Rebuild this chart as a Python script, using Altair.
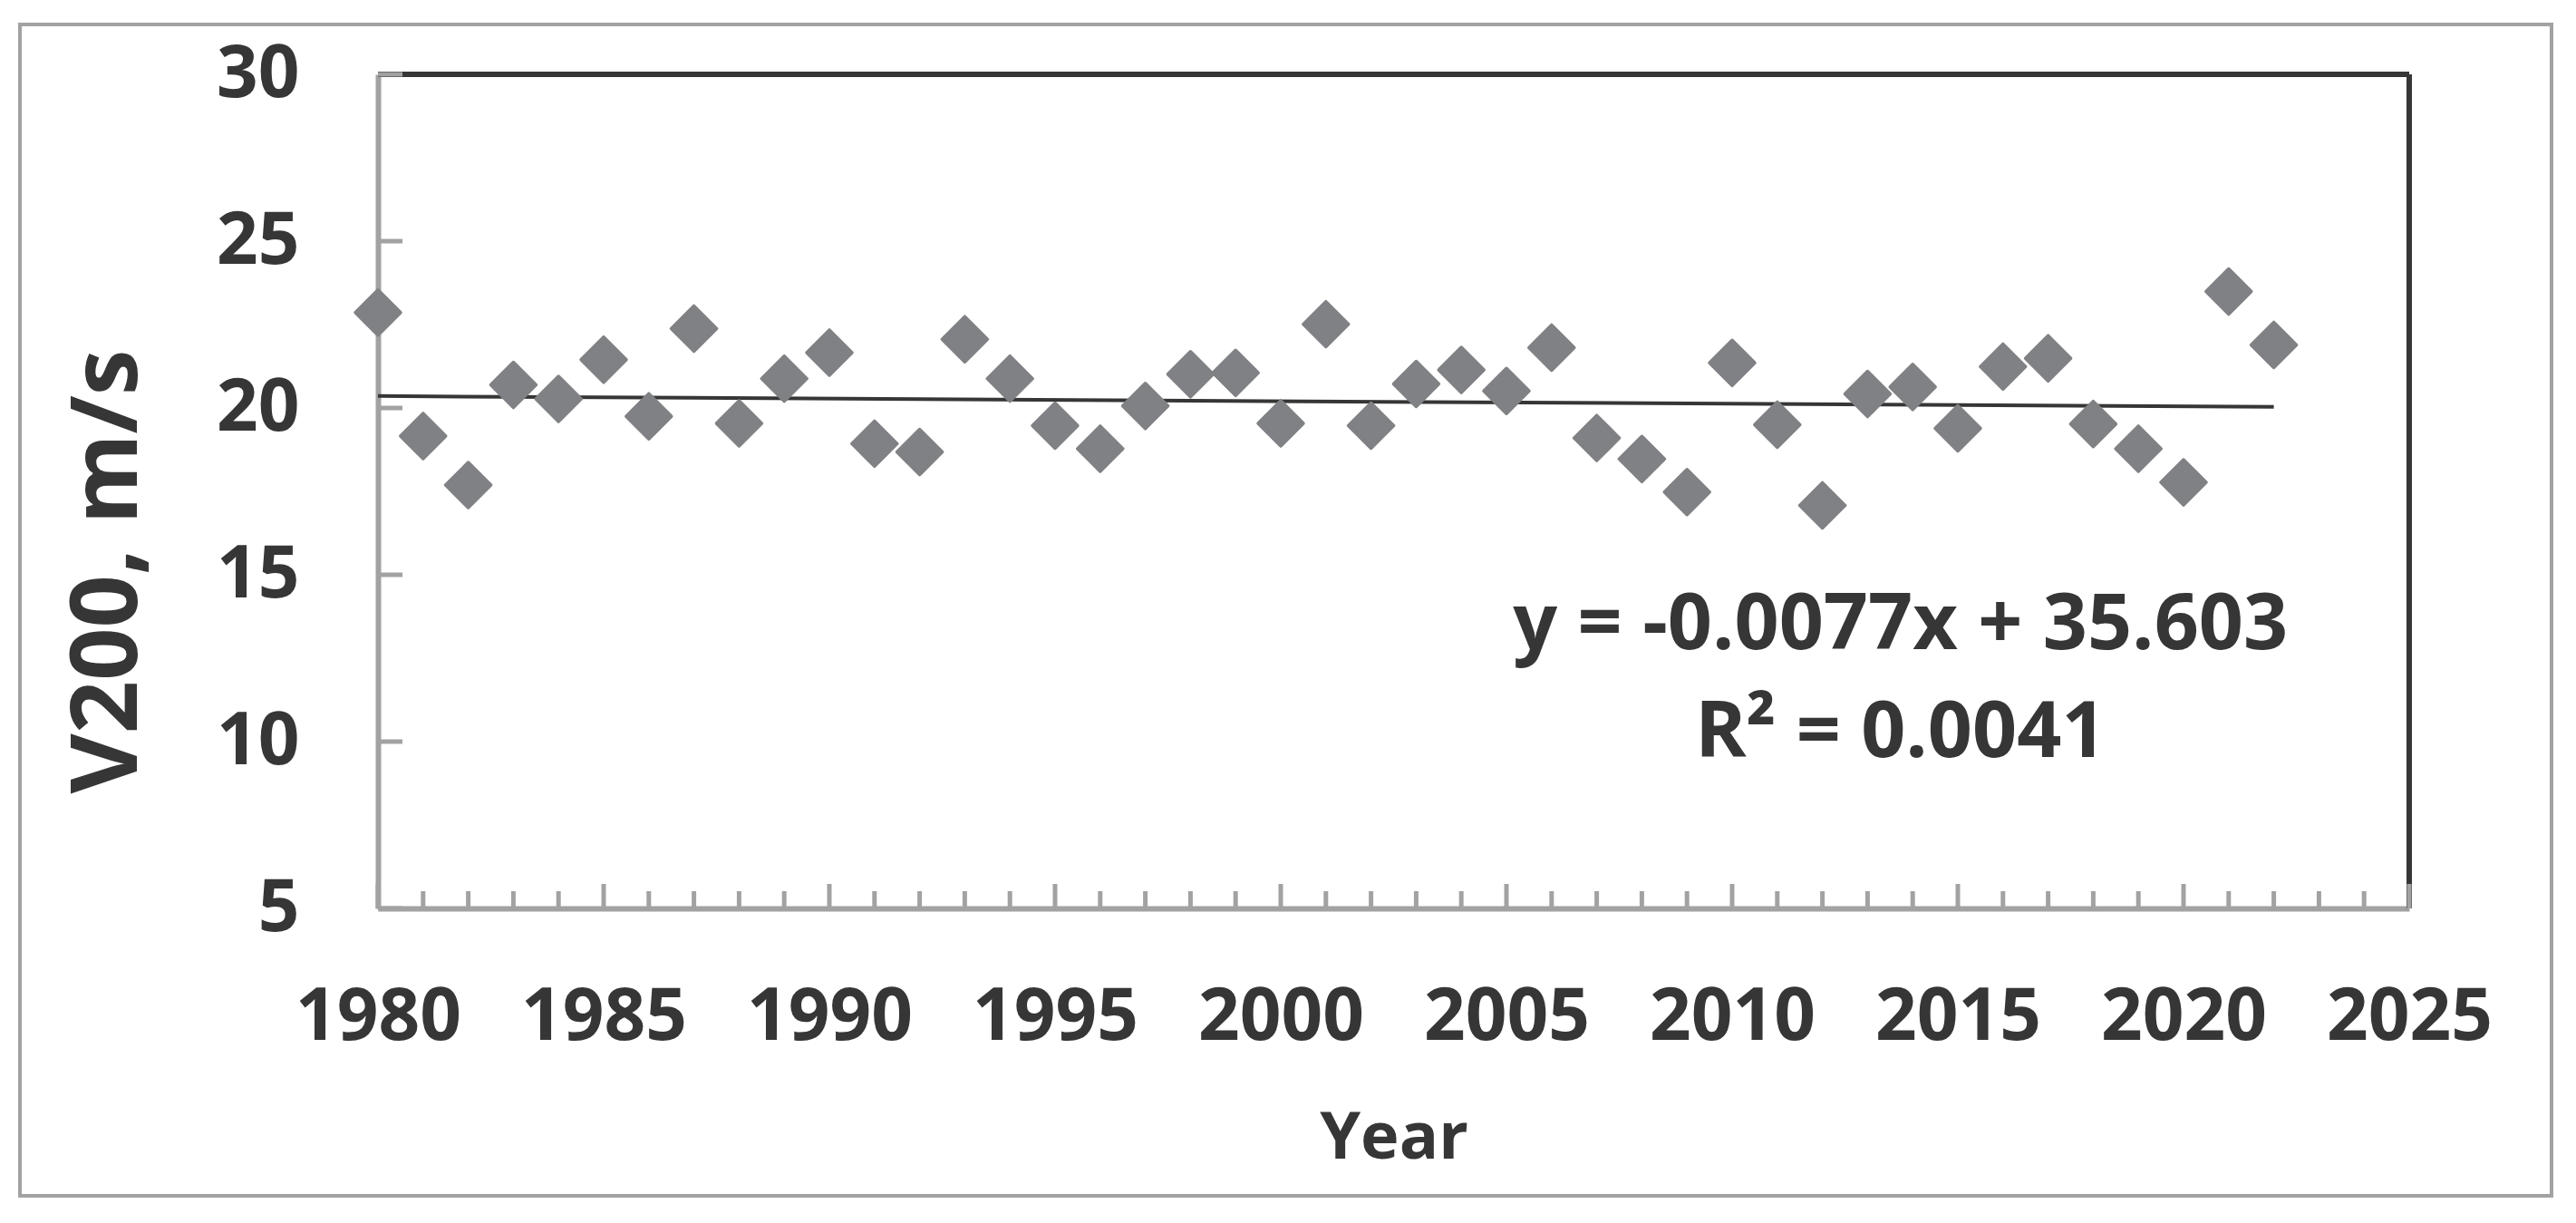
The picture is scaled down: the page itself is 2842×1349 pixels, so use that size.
import altair as alt
import pandas as pd

# ---- data ----
years = list(range(1980, 2023))
v200 = [22.86, 19.16, 17.69, 20.69, 20.27, 21.45, 19.75, 22.38, 19.54, 20.88,
        21.66, 18.93, 18.68, 22.06, 20.88, 19.47, 18.78, 20.06, 21.01, 21.05,
        19.54, 22.51, 19.47, 20.72, 21.14, 20.51, 21.81, 19.10, 18.47, 17.48,
        21.35, 19.50, 17.08, 20.42, 20.63, 19.39, 21.24, 21.49, 19.52, 18.78,
        17.77, 23.49, 21.89]
trend_years = [1980, 2022]
trend_values = [20.357, 20.034]
tick_years = list(range(1980, 2026))
x_labels = list(range(1980, 2030, 5))
y_ticks = [5, 10, 15, 20, 25, 30]
eq_lines = ["y = -0.0077x + 35.603", "R\u00b2 = 0.0041"]

FONT = "Open Sans"
TXT = "#363636"
GRAY = "#a2a2a2"
MK = "#808184"
W, H = 2241, 920

pts = pd.DataFrame({"Year": years, "V200": v200})
trend = pd.DataFrame({"Year": trend_years, "V200": trend_values})
major = pd.DataFrame({"Year": [y for y in tick_years if y % 5 == 0]})
minor = pd.DataFrame({"Year": [y for y in tick_years if y % 5 != 0]})
yt = pd.DataFrame({"V200": y_ticks})
eq = pd.DataFrame({"txt": eq_lines, "Year": [2013.73, 2013.73], "V200": [12.77, 9.54]})

xscale = alt.Scale(domain=[1980, 2025], nice=False, zero=False)
yscale = alt.Scale(domain=[5, 30], nice=False, zero=False)

xaxis = alt.Axis(values=x_labels, format="d", title="Year", ticks=False, tickSize=0,
                 grid=False, domainColor=GRAY, domainWidth=6,
                 labelFont=FONT, labelFontSize=80, labelFontWeight="bold", labelColor=TXT,
                 labelPadding=81, labelFlush=False, labelOverlap=False, labelLimit=600,
                 titleFont=FONT, titleFontSize=72, titleFontWeight="bold", titleColor=TXT,
                 titleY=275, titleBaseline="alphabetic", titleLimit=1000)
yaxis = alt.Axis(values=y_ticks, title="V200, m/s", ticks=False, tickSize=0,
                 grid=False, domainColor=GRAY, domainWidth=6,
                 labelFont=FONT, labelFontSize=80, labelFontWeight="bold", labelColor=TXT,
                 labelPadding=87, labelFlush=False, labelOverlap=False, labelLimit=600,
                 titleFont=FONT, titleFontSize=102, titleFontWeight="bold", titleColor=TXT,
                 titleAngle=270, titleX=-267, titleY=548, titleAlign="center",
                 titleBaseline="alphabetic", titleLimit=1000)

x_enc = alt.X("Year:Q", scale=xscale, axis=xaxis)
y_enc = alt.Y("V200:Q", scale=yscale, axis=yaxis)

one = alt.Data(values=[{"a": 1}])

outer = alt.Chart(one).mark_rect(fillOpacity=0, stroke=GRAY, strokeWidth=4).encode(
    x=alt.value(-395), x2=alt.value(2398), y=alt.value(-55), y2=alt.value(1237))
top_line = alt.Chart(one).mark_rule(color=TXT, strokeWidth=6).encode(
    x=alt.value(0), x2=alt.value(W), y=alt.value(0))
right_line = alt.Chart(one).mark_rule(color=TXT, strokeWidth=6).encode(
    x=alt.value(W), y=alt.value(0), y2=alt.value(H))

minor_ticks = alt.Chart(minor).mark_rule(color=GRAY, strokeWidth=5).encode(
    x=x_enc, y=alt.value(H), y2=alt.value(H - 19))
major_ticks = alt.Chart(major).mark_rule(color=GRAY, strokeWidth=5).encode(
    x=x_enc, y=alt.value(H), y2=alt.value(H - 27))
y_tick_rules = alt.Chart(yt).mark_rule(color=GRAY, strokeWidth=5).encode(
    y=y_enc, x=alt.value(0), x2=alt.value(27))

trend_line = alt.Chart(trend).mark_line(color=TXT, strokeWidth=4).encode(x=x_enc, y=y_enc)

points = alt.Chart(pts).mark_point(shape="diamond", filled=True, fill=MK, stroke=MK,
                                   strokeWidth=3.5, strokeJoin="round", size=2500,
                                   opacity=1, fillOpacity=1).encode(x=x_enc, y=y_enc)

eq_text = alt.Chart(eq).mark_text(font=FONT, fontSize=86, fontWeight="bold", color=TXT,
                                  align="center", baseline="alphabetic", limit=2000).encode(
    x=x_enc, y=y_enc, text="txt:N")

chart = alt.layer(outer, top_line, right_line, minor_ticks, major_ticks, y_tick_rules,
                  trend_line, points, eq_text).properties(
    width=W, height=H,
    padding={"left": 409, "top": 74, "right": 176, "bottom": 339},
    autosize=alt.AutoSizeParams(type="none"),
    background="white",
).configure_view(stroke=None)

chart.save("out.html", embed_options={"renderer": "svg", "actions": False})
